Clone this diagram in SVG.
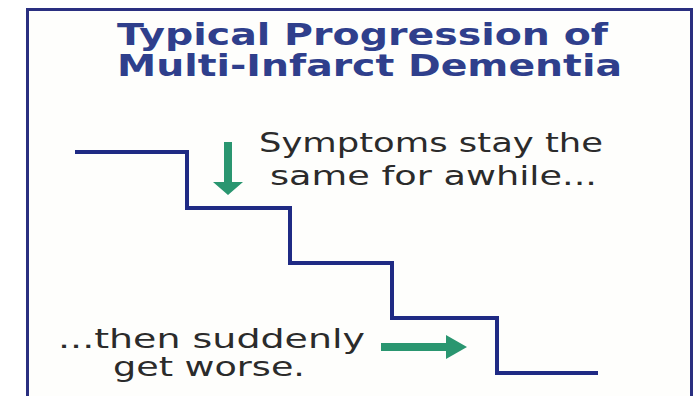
<svg xmlns="http://www.w3.org/2000/svg" width="699" height="396" viewBox="0 0 699 396">
<style>
.title{font-family:"DejaVu Sans",Verdana,sans-serif;font-size:31px;font-weight:bold;fill:#2f3f8c}
.body{font-family:"DejaVu Sans",Verdana,sans-serif;font-size:27px;fill:#2b2b2b}
.stair{fill:none;stroke:#1f2a84;stroke-width:4}
.arrow{fill:#2a9670}
</style>
<rect x="0" y="0" width="699" height="396" fill="#ffffff"/>
<path d="M27.5 400 V9.5 H691.5 V400" fill="#fefefc" stroke="#2a2f80" stroke-width="3"/>
<g id="title">
<text class="title" x="117" y="45" textLength="491" lengthAdjust="spacingAndGlyphs">Typical Progression of</text>
<text class="title" x="117" y="76" textLength="505" lengthAdjust="spacingAndGlyphs">Multi-Infarct Dementia</text>
</g>
<g id="connectors">
<path id="stairs" class="stair" d="M75 152 H187 V208 H290 V263 H392 V318 H497 V373 H598"/>
</g>
<g id="arrow-down">
<path class="arrow" d="M224 142 H232 V182 H243 L228 195 L213 182 H224 Z"/>
</g>
<g id="label-top">
<text class="body" x="259" y="152" textLength="344" lengthAdjust="spacingAndGlyphs">Symptoms stay the</text>
<text class="body" x="270" y="185" textLength="327" lengthAdjust="spacingAndGlyphs">same for awhile...</text>
</g>
<g id="arrow-right">
<path class="arrow" d="M381 343 H446 V335 L467 347 L446 359 V351 H381 Z"/>
</g>
<g id="label-bottom">
<text class="body" x="58" y="348" textLength="307" lengthAdjust="spacingAndGlyphs">...then suddenly</text>
<text class="body" x="113" y="376" textLength="192" lengthAdjust="spacingAndGlyphs">get worse.</text>
</g>
</svg>
